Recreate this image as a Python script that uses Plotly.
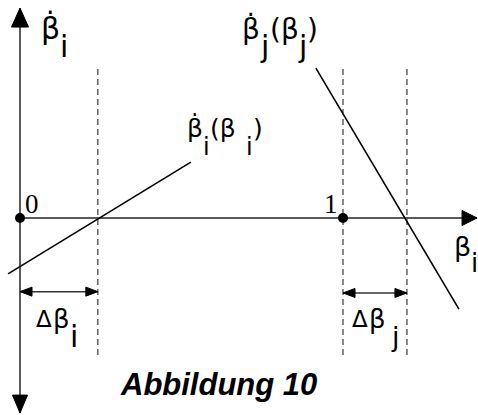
import plotly.graph_objects as go

# ---- data -----------------------------------------------------------------
beta_marks = [0.0, 1.0]                 # the two reference points on the beta axis
beta_mark_labels = ["0", "1"]
delta_beta_i = 0.241                    # root offset of the i-rate line
delta_beta_j = 0.198                    # root offset of the j-rate line
rate_i_beta = [-0.037, 0.529]           # beta_i range of the i-rate line
rate_i_value = [-0.173, 0.173]          # d(beta_i)/dt at those ends
rate_j_beta = [0.916, 1.359]            # beta_j range of the j-rate line
rate_j_value = [0.464, -0.282]          # d(beta_j)/dt at those ends

beta_axis_end = 1.415
rate_axis_top, rate_axis_bottom = 0.650, -0.604
guide_top, guide_bottom = 0.474, -0.424
span_level_i, span_level_j = -0.228, -0.232

# ---- canvas geometry ------------------------------------------------------
W, H = 478, 415
PX = 323.0                  # pixels per unit on both axes
X0, Y0 = 20.0, 218.0        # pixel position of the origin
X_RANGE = [-X0 / PX, (W - X0) / PX]
Y_RANGE = [(Y0 - H) / PX, Y0 / PX]

GREEK = "DejaVu Sans"
CAPTION = "Liberation Sans"
SERIF = "Liberation Serif"
AXIS_GREY = "#5a5a5a"
BETA_DOT = "β\u0307"        # beta with a dot above (time derivative)

fig = go.Figure()


def seg(xs, ys, color="black", width=1.5, dash=None):
    fig.add_trace(go.Scatter(x=xs, y=ys, mode="lines", hoverinfo="skip",
                             line=dict(color=color, width=width, dash=dash)))


def head(tx, ty, dx, dy, length_px, half_px, color="black"):
    """Filled triangular arrow head with its tip at (tx, ty) pointing along (dx, dy)."""
    L, hw = length_px / PX, half_px / PX
    bx, by = tx - dx * L, ty - dy * L
    nx, ny = -dy, dx
    fig.add_trace(go.Scatter(
        x=[tx, bx + nx * hw, bx - nx * hw, tx],
        y=[ty, by + ny * hw, by - ny * hw, ty],
        mode="lines", fill="toself", fillcolor=color,
        line=dict(color=color, width=1), hoverinfo="skip"))


# coordinate axes
seg([0, 0], [rate_axis_bottom, rate_axis_top], AXIS_GREY, 2)
seg([0, beta_axis_end], [0, 0], AXIS_GREY, 2)
head(0, rate_axis_top, 0, 1, 19, 8.5)
head(0, rate_axis_bottom, 0, -1, 18, 7.5)
head(beta_axis_end, 0, 1, 0, 15, 7.5)

# dashed guides at the roots and at beta = 1
for gx in [delta_beta_i, beta_marks[1], beta_marks[1] + delta_beta_j]:
    seg([gx, gx], [guide_bottom, guide_top], "#3a3a3a", 1.2, "6px,4px")

# rate lines
seg(rate_i_beta, rate_i_value, "black", 1.6)
seg(rate_j_beta, rate_j_value, "black", 1.6)

# dimension arrows for the root offsets
for x_a, x_b, lvl in [(beta_marks[0], beta_marks[0] + delta_beta_i, span_level_i),
                      (beta_marks[1], beta_marks[1] + delta_beta_j, span_level_j)]:
    seg([x_a, x_b], [lvl, lvl], "#333333", 1.5)
    head(x_a, lvl, -1, 0, 12, 4.5)
    head(x_b, lvl, 1, 0, 12, 4.5)

# reference points
fig.add_trace(go.Scatter(x=beta_marks, y=[0, 0], mode="markers", hoverinfo="skip",
                         marker=dict(size=10, color="black")))

# ---- text -----------------------------------------------------------------
ann = []


def label(text, x_px, base_px, size, family=GREEK, anchor="left", k=0.346):
    cy = base_px - k * size
    ann.append(dict(x=x_px / W, y=1 - cy / H, xref="paper", yref="paper",
                    xanchor=anchor, yanchor="middle", text=text, showarrow=False,
                    borderpad=0, font=dict(family=family, size=size, color="black")))


# beta_i-dot at the top of the vertical axis
label(BETA_DOT, 40, 38, 30)
label("i", 59.3, 57, 30)

# beta_i-dot(beta_i)
label(BETA_DOT, 186, 137, 25)
label("i", 202, 155, 24)
label("(β", 208.8, 137, 25)
label("i", 245, 155, 24)
label(")", 252, 137, 25)

# beta_j-dot(beta_j)
label(BETA_DOT, 241, 39, 28)
label("j", 259.2, 57, 30)
label("(β", 268.5, 39, 28)
label("j", 297.4, 57, 30)
label(")", 305.8, 39, 28)

# axis title
label("β", 453, 256, 27)
label("i", 470.4, 272, 26)

# offsets
label("Δ", 35, 327, 23)
label("β", 51.5, 328, 26)
label("i", 69, 347, 30)
label("Δ", 351, 327, 23)
label("β", 367.5, 328, 26)
label("j", 390, 346, 27)

# point labels
label(beta_mark_labels[0], 24, 213, 27, SERIF, k=0.3375)
label(beta_mark_labels[1], 323, 213, 27, SERIF, k=0.3375)

# caption
label("<b><i>Abbildung 10</i></b>", 218, 395, 31, CAPTION, anchor="center", k=0.3465)

fig.update_layout(
    width=W, height=H, margin=dict(l=0, r=0, t=0, b=0),
    paper_bgcolor="white", plot_bgcolor="white", showlegend=False,
    xaxis=dict(visible=False, range=X_RANGE, fixedrange=True),
    yaxis=dict(visible=False, range=Y_RANGE, fixedrange=True),
    annotations=ann,
)

fig.write_html("out.html")
